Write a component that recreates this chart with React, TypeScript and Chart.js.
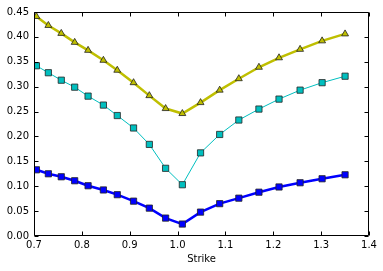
import React, { useEffect, useRef } from 'react';
import { Chart, registerables } from 'chart.js';

Chart.register(...registerables);

const strikes = [0.705, 0.730, 0.757, 0.785, 0.813, 0.845, 0.874, 0.908, 0.941, 0.975, 1.010, 1.048, 1.088, 1.128, 1.170, 1.212, 1.256, 1.302, 1.350];
const yellowVals = [0.441, 0.423, 0.407, 0.389, 0.373, 0.353, 0.333, 0.308, 0.282, 0.256, 0.246, 0.268, 0.293, 0.316, 0.339, 0.358, 0.375, 0.392, 0.406];
const cyanVals = [0.342, 0.328, 0.313, 0.299, 0.281, 0.263, 0.242, 0.217, 0.184, 0.136, 0.103, 0.167, 0.204, 0.233, 0.255, 0.275, 0.293, 0.308, 0.321];
const blueVals = [0.133, 0.125, 0.119, 0.111, 0.101, 0.0925, 0.083, 0.070, 0.056, 0.036, 0.024, 0.048, 0.065, 0.076, 0.088, 0.0985, 0.107, 0.115, 0.123];
const xTicks = [0.7, 0.8, 0.9, 1.0, 1.1, 1.2, 1.3, 1.4];
const yTicks = [0.0, 0.05, 0.1, 0.15, 0.2, 0.25, 0.3, 0.35, 0.4, 0.45];
const xTitle = 'Strike';

const FONT = "'DejaVu Sans', sans-serif";

const framePlugin = {
  id: 'mplFrame',
  afterDatasetsDraw(chart: any) {
    const { ctx, chartArea } = chart;
    const { left, right, top, bottom } = chartArea;
    const xs = chart.scales.x;
    const ys = chart.scales.y;
    ctx.save();
    ctx.strokeStyle = '#000';
    ctx.lineWidth = 1;
    const L = left + 0.5, R = right - 0.5, T = top + 0.5, B = bottom - 0.5;
    ctx.beginPath();
    xTicks.forEach((v) => {
      const px = Math.round(xs.getPixelForValue(v)) + 0.5;
      ctx.moveTo(px, B); ctx.lineTo(px, B - 4);
      ctx.moveTo(px, T); ctx.lineTo(px, T + 4);
    });
    yTicks.forEach((v) => {
      const py = Math.round(ys.getPixelForValue(v)) + 0.5;
      ctx.moveTo(L, py); ctx.lineTo(L + 4, py);
      ctx.moveTo(R, py); ctx.lineTo(R - 4, py);
    });
    ctx.stroke();
    ctx.beginPath();
    ctx.rect(L, T, R - L, B - T);
    ctx.stroke();
    ctx.restore();
  },
};

export default function App() {
  const ref = useRef<HTMLCanvasElement>(null);
  useEffect(() => {
    if (!ref.current) return;
    const mk = (vals: number[]) => strikes.map((x, i) => ({ x, y: vals[i] }));
    const chart = new Chart(ref.current, {
      type: 'line',
      data: {
        datasets: [
          {
            data: mk(blueVals),
            borderColor: '#0000ff',
            borderWidth: 2.5,
            pointStyle: 'rect',
            pointRadius: 4.4,
            pointBackgroundColor: '#0000ff',
            pointBorderColor: '#222',
            pointBorderWidth: 0.8,
            clip: 0,
          },
          {
            data: mk(cyanVals),
            borderColor: '#00bfbf',
            borderWidth: 1,
            pointStyle: 'rect',
            pointRadius: 4.4,
            pointBackgroundColor: '#00bfbf',
            pointBorderColor: '#222',
            pointBorderWidth: 0.8,
            clip: 0,
          },
          {
            data: mk(yellowVals),
            borderColor: '#bfbf00',
            borderWidth: 2.5,
            pointStyle: 'triangle',
            pointRadius: 4,
            pointBackgroundColor: '#bfbf00',
            pointBorderColor: '#222',
            pointBorderWidth: 0.8,
            clip: 0,
          },
        ],
      },
      options: {
        responsive: false,
        animation: false,
        devicePixelRatio: 1,
        layout: { padding: { left: 0, right: 14, top: 12, bottom: 0 } },
        plugins: { legend: { display: false }, tooltip: { enabled: false } },
        elements: { line: { tension: 0 } },
        scales: {
          x: {
            type: 'linear',
            min: 0.7,
            max: 1.4,
            grid: { display: false, drawTicks: false },
            border: { display: false },
            afterBuildTicks: (s: any) => { s.ticks = xTicks.map((v) => ({ value: v })); },
            afterFit: (s: any) => { s.height = 35; },
            ticks: {
              color: '#000',
              font: { family: FONT, size: 10 },
              padding: 3,
              maxRotation: 0,
              autoSkip: false,
              callback: (v: any) => Number(v).toFixed(1),
            },
            title: {
              display: true,
              text: xTitle,
              color: '#000',
              font: { family: FONT, size: 10 },
              padding: { top: 6, bottom: 6 },
            },
          },
          y: {
            type: 'linear',
            min: 0,
            max: 0.45,
            grid: { display: false, drawTicks: false },
            border: { display: false },
            afterBuildTicks: (s: any) => { s.ticks = yTicks.map((v) => ({ value: v })); },
            afterFit: (s: any) => { s.width = 34; },
            ticks: {
              color: '#000',
              font: { family: FONT, size: 10 },
              padding: 5,
              autoSkip: false,
              callback: (v: any) => Number(v).toFixed(2),
            },
          },
        },
      },
      plugins: [framePlugin],
    });
    return () => chart.destroy();
  }, []);
  return (
    <canvas
      ref={ref}
      width={383}
      height={271}
      style={{ position: 'absolute', left: 0, top: 0, width: 383, height: 271 }}
    />
  );
}
